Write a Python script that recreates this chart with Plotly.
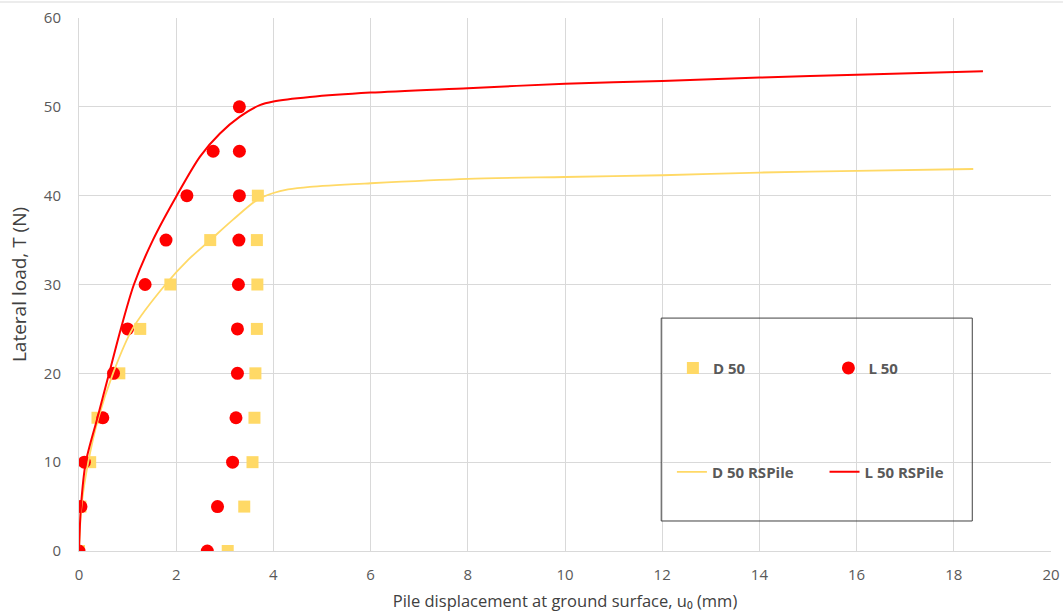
import plotly.graph_objects as go

# Measured data: D 50 (squares)
d50_x = [0, 0.03, 0.23, 0.38, 0.83, 1.26, 1.88, 2.70, 3.68, 3.66, 3.67, 3.66, 3.63, 3.61, 3.57, 3.40, 3.06]
d50_y = [0, 5, 10, 15, 20, 25, 30, 35, 40, 35, 30, 25, 20, 15, 10, 5, 0]

# Measured data: L 50 (circles)
l50_x = [0, 0.04, 0.11, 0.49, 0.71, 1.00, 1.36, 1.79, 2.22, 2.76, 3.30, 3.30, 3.30, 3.29, 3.28, 3.26, 3.26, 3.23, 3.16, 2.85, 2.64]
l50_y = [0, 5, 10, 15, 20, 25, 30, 35, 40, 45, 50, 45, 40, 35, 30, 25, 20, 15, 10, 5, 0]

# RSPile curves
d50rs_x = [0, 0.05, 0.19, 0.40, 0.70, 1.10, 1.78, 2.25, 2.70, 3.17, 3.66, 4.0, 4.3, 4.75, 6, 8, 10, 12, 14, 16, 18.4]
d50rs_y = [0, 5, 10, 15, 20, 25, 30, 32.8, 35, 37.3, 39.5, 40.3, 40.7, 41.0, 41.4, 41.9, 42.1, 42.3, 42.6, 42.8, 43.0]

l50rs_x = [0, 0.04, 0.14, 0.38, 0.62, 0.86, 1.13, 1.52, 2.01, 2.49, 2.90, 3.31, 3.72, 4.0, 4.75, 6, 8, 10, 12, 14, 16, 18.6]
l50rs_y = [0, 5, 10, 15, 20, 25, 30, 35, 40, 44.4, 47.0, 48.9, 50.2, 50.6, 51.1, 51.6, 52.1, 52.6, 52.9, 53.3, 53.6, 54.0]

YEL = "#FFD966"
RED = "#FF0000"
FONT = "Open Sans"

fig = go.Figure()
fig.add_trace(go.Scatter(x=d50_x, y=d50_y, mode="markers", name="D 50",
                         marker=dict(symbol="square", size=12, color=YEL), legend="legend"))
fig.add_trace(go.Scatter(x=l50_x, y=l50_y, mode="markers", name="L 50",
                         marker=dict(symbol="circle", size=13, color=RED), legend="legend2"))
fig.add_trace(go.Scatter(x=d50rs_x, y=d50rs_y, mode="lines", name="D 50 RSPile",
                         line=dict(color=YEL, width=1.8, shape="spline", smoothing=0.8), legend="legend3"))
fig.add_trace(go.Scatter(x=l50rs_x, y=l50rs_y, mode="lines", name="L 50 RSPile",
                         line=dict(color=RED, width=2, shape="spline", smoothing=0.8), legend="legend4"))

legfont = dict(family=FONT, size=15, color="#595959", weight="bold")
common = dict(font=legfont, bgcolor="rgba(0,0,0,0)", yanchor="middle", xanchor="left")
fig.update_layout(
    legend=dict(x=0.611, y=0.343, **common),
    legend2=dict(x=0.771, y=0.343, **common),
    legend3=dict(x=0.610, y=0.148, **common),
    legend4=dict(x=0.767, y=0.148, **common),
)

# legend frame
fig.add_shape(type="rect", xref="paper", yref="paper", x0=0.599, x1=0.919, y0=0.0563, y1=0.437,
              line=dict(color="#404040", width=1))
# thin rule at the very top of the chart
fig.add_shape(type="line", xref="paper", yref="paper", x0=-0.0813, x1=1.0123, y0=1.030, y1=1.030,
              line=dict(color="#D9D9D9", width=1))

fig.update_layout(
    width=1063, height=614,
    margin=dict(l=79, r=12, t=18, b=63, autoexpand=False),
    paper_bgcolor="white", plot_bgcolor="white",
    showlegend=True,
    font=dict(family=FONT, color="#595959"),
    xaxis=dict(range=[0, 20], dtick=2, showgrid=True, gridcolor="#D9D9D9", gridwidth=1,
               zeroline=False, showline=True, linecolor="#D9D9D9", automargin=False,
               tickfont=dict(size=15, color="#595959"), ticks="", ticklabelstandoff=10,
               title=dict(text="Pile displacement at ground surface, u\u2080 (mm)",
                          font=dict(size=16.5, color="#404040"), standoff=12)),
    yaxis=dict(range=[0, 60], dtick=10, showgrid=True, gridcolor="#D9D9D9", gridwidth=1,
               zeroline=False, showline=True, linecolor="#D9D9D9", automargin=False,
               tickfont=dict(size=15, color="#595959"), ticks="", ticklabelstandoff=14,
               title=dict(text="Lateral load, T (N)", font=dict(size=19, color="#404040"), standoff=12)),
)

fig.write_html("out.html")
